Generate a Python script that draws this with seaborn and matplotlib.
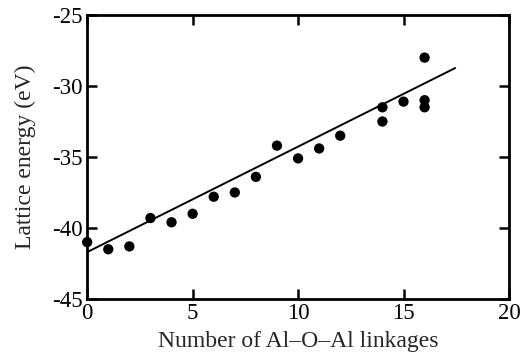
import matplotlib
matplotlib.use("Agg")
import matplotlib.pyplot as plt
import numpy as np
import pandas as pd
import seaborn as sns

# Al-O-Al linkages vs lattice energy
linkages = [0, 1, 2, 3, 4, 5, 6, 7, 8, 9, 10, 11, 12, 14, 14, 15, 16, 16, 16]
energy = [-41.0, -41.5, -41.3, -39.3, -39.6, -39.0, -37.8, -37.5, -36.4, -34.2,
          -35.1, -34.4, -33.5, -31.5, -32.5, -31.1, -28.0, -31.0, -31.5]

# fitted line as drawn in the figure
fit_intercept = -41.7
fit_slope = 0.743
fit_x = [0, 17.45]

x_ticks = [0, 5, 10, 15, 20]
y_ticks = [-45, -40, -35, -30, -25]

sns.set_theme(style="ticks")
plt.rcParams["font.family"] = ["Liberation Serif", "DejaVu Serif"]
plt.rcParams["axes.unicode_minus"] = False

df = pd.DataFrame({"n": linkages, "e": energy})
line = pd.DataFrame({"n": fit_x, "e": [fit_intercept + fit_slope * v for v in fit_x]})

fig, ax = plt.subplots(figsize=(5.22, 3.58), dpi=100)
fig.subplots_adjust(left=0.167, right=0.975, top=0.958, bottom=0.165)

sns.lineplot(data=line, x="n", y="e", color="black", linewidth=1.4, ax=ax)
sns.scatterplot(data=df, x="n", y="e", color="black", s=55, edgecolor="none",
                ax=ax, zorder=3, clip_on=False)

ax.set_xlim(0, 20)
ax.set_ylim(-45, -25)
ax.set_xticks(x_ticks)
ax.set_yticks(y_ticks)
ax.tick_params(direction="in", length=7, width=1.8, labelsize=16.5,
               top=True, right=True, colors="black", pad=3)
for sp in ax.spines.values():
    sp.set_linewidth(2)
    sp.set_color("black")

ax.set_xlabel("Number of Al\u2013O\u2013Al linkages", fontsize=17, labelpad=5)
ax.set_ylabel("Lattice energy (eV)", fontsize=17, labelpad=12)

fig.savefig("out.png", dpi=100)
